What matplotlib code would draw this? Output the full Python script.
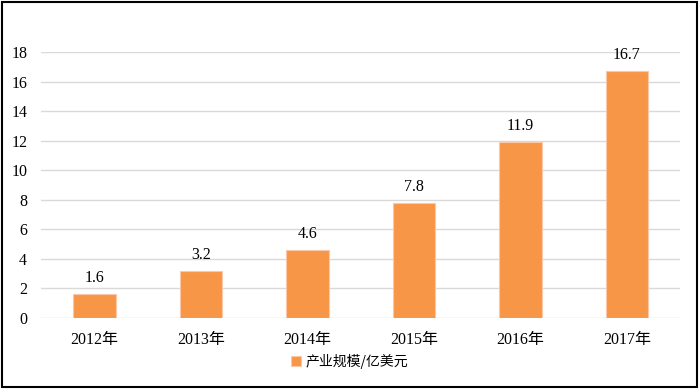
import matplotlib.pyplot as plt
from matplotlib.patches import Rectangle

years = ["2012年", "2013年", "2014年", "2015年", "2016年", "2017年"]
values = [1.6, 3.2, 4.6, 7.8, 11.9, 16.7]
label = "产业规模/亿美元"

plt.rcParams['font.family'] = ['Liberation Serif', 'Noto Sans CJK SC']

fig = plt.figure(figsize=(6.99, 3.91), dpi=100)
ax = fig.add_axes([0.0587, 0.1867, 0.9143, 0.6803])

x = list(range(len(years)))
bars = ax.bar(x, values, width=0.4, color="#F79646", edgecolor="#FAC8A8", linewidth=0.8,
              label=label, zorder=3)
for xi, v in zip(x, values):
    ax.text(xi, v + 0.55, f"{v}", ha="center", va="bottom", fontsize=11.5, color="black")

ax.set_xlim(-0.5, len(years) - 0.5)
ax.set_ylim(0, 18)
ax.set_yticks(range(0, 19, 2))
ax.set_xticks(x)
ax.set_xticklabels(years)
ax.grid(axis="y", color="#D9D9D9", linewidth=1, zorder=0)
for s in ax.spines.values():
    s.set_visible(False)
ax.tick_params(axis="both", length=0, labelsize=11.5)
ax.tick_params(axis="x", pad=10)
ax.tick_params(axis="y", pad=10)

fig.legend(loc="lower center", bbox_to_anchor=(0.5, 0.025), frameon=False,
           handlelength=0.7, handleheight=0.7, handletextpad=0.3,
           prop={'family': ['Noto Sans CJK SC'], 'size': 10})

fig.patches.append(Rectangle((0.003, 0.01), 0.994, 0.985, transform=fig.transFigure,
                             fill=False, edgecolor="black", linewidth=1.5))

fig.savefig("out.png", dpi=100)
